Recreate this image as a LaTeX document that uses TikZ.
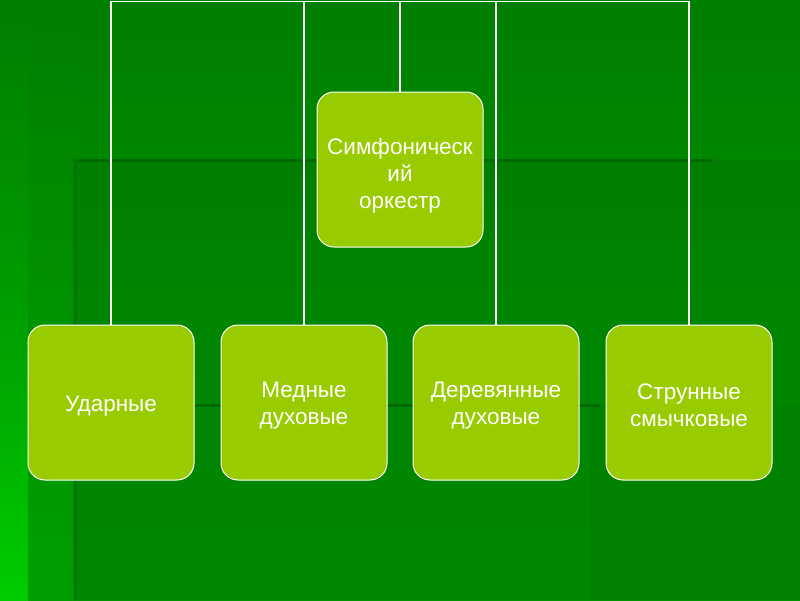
\documentclass[tikz,border=0pt]{standalone}
\usepackage{fontspec}
\setmainfont{Liberation Sans}
\definecolor{bgtop}{HTML}{007E00}
\definecolor{bgmid}{HTML}{009000}
\definecolor{bgbot}{HTML}{009200}
\definecolor{boxfill}{HTML}{99CC00}
\definecolor{darkline}{HTML}{006A00}
\definecolor{stripbot}{HTML}{00CC00}
\definecolor{strip2}{HTML}{009E00}
\tikzset{
  box/.style={draw=white, line width=1pt, fill=boxfill, rounded corners=17pt,
    minimum width=166pt, minimum height=155pt, inner sep=0pt},
  txt/.style={text=white, align=center, inner sep=0pt,
    font=\fontsize{22.5pt}{27pt}\selectfont},
  conn/.style={draw=white, line width=1.6pt},
  bgline/.style={draw=darkline, line width=3pt}
}
\begin{document}
\begin{tikzpicture}[x=1pt,y=-1pt]
\useasboundingbox (0,0) rectangle (800,600);
% background
\shade[top color=bgtop, bottom color=bgbot, middle color=bgmid] (0,0) rectangle (800,600);
\shade[top color=bgtop, bottom color=strip2, middle color=bgmid!85!strip2] (28,0) rectangle (73,600);
\shade[top color=bgtop, bottom color=stripbot, middle color=bgmid!80!stripbot] (0,0) rectangle (28,600);
\fill[black, opacity=0.07] (73,160) rectangle (800,600);
\fill[black, opacity=0.03] (590,405) rectangle (800,600);
\draw[bgline] (73,160) -- (713,160);
\draw[bgline, draw=darkline!70!bgbot] (75,160) -- (75,600);
\draw[bgline] (75,405) -- (600,405);
% nodes
\node[box] (root) at (400,169.5) {};
\node[box] (c1) at (111,402.5) {};
\node[box] (c2) at (304,402.5) {};
\node[box] (c3) at (496,402.5) {};
\node[box] (c4) at (689,402.5) {};
\node[txt] (t0) at ([yshift=-6pt]root.center) {Симфоническ\\ий\\оркестр};
\node[txt] (t1) at ([yshift=-4pt]c1.center) {Ударные};
\node[txt] (t2) at ([yshift=-3pt]c2.center) {Медные\\духовые};
\node[txt] (t3) at ([yshift=-3pt]c3.center) {Деревянные\\духовые};
\node[txt] (t4) at ([yshift=-3pt]c4.center) {Струнные\\смычковые};
\coordinate (top) at (400,1.5);
% connectors
\draw[conn] (root.north) -- (top);
\draw[conn] (top) -| (c1.north);
\draw[conn] (top) -| (c2.north);
\draw[conn] (top) -| (c3.north);
\draw[conn] (top) -| (c4.north);
\end{tikzpicture}
\end{document}
